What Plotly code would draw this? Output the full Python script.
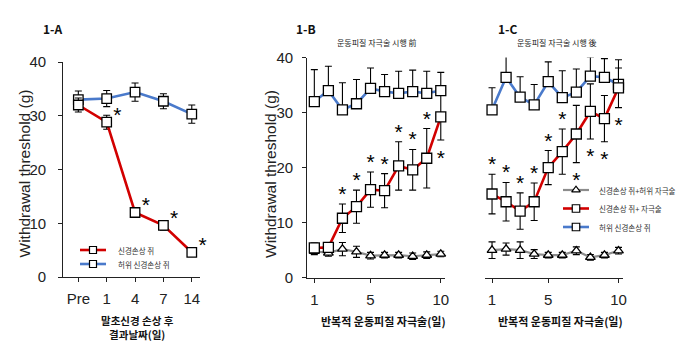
import plotly.graph_objects as go

# ---------------- data ----------------
# 1-A : days after peripheral nerve injury
a_days = ["Pre", "1", "4", "7", "14"]
a_injury = [32.0, 28.8, 12.0, 9.6, 4.6]
a_injury_err = [1.3, 1.3, 0.5, 0.9, 0.4]
a_sham = [33.0, 33.2, 34.4, 32.7, 30.3]
a_sham_err = [1.6, 1.5, 1.7, 1.4, 1.7]
a_sig = [False, True, True, True, True]

# 1-B / 1-C : days of repeated motor cortex stimulation
stim_days = [1, 2, 3, 4, 5, 6, 7, 8, 9, 10]

b_sham = [32.0, 34.0, 30.5, 31.6, 34.4, 33.8, 33.5, 33.8, 33.5, 34.0]
b_sham_err = [5.8, 4.4, 4.9, 4.4, 3.7, 3.1, 4.0, 3.9, 4.0, 3.3]
b_stim = [5.4, 5.5, 10.8, 12.9, 16.0, 15.8, 20.3, 19.6, 21.7, 29.2]
b_stim_err = [0.9, 0.8, 2.6, 3.0, 3.2, 3.1, 4.4, 3.7, 5.4, 4.2]
b_shamstim = [4.8, 4.5, 5.2, 4.7, 4.0, 4.1, 4.1, 3.9, 4.1, 4.3]
b_shamstim_err = [0.6, 0.6, 1.2, 1.0, 0.6, 0.5, 0.5, 0.6, 0.6, 0.5]
# significance mark: +1 above the bar, -1 below, 0 none
b_sig = [0, 0, 1, 1, 1, 1, 1, 1, 1, -1]

c_sham = [30.5, 36.4, 32.8, 31.4, 35.6, 32.7, 33.7, 36.6, 36.4, 35.1]
c_sham_err = [4.0, 4.1, 3.7, 3.7, 3.6, 4.9, 4.2, 3.5, 3.4, 4.5]
c_stim = [15.2, 13.8, 12.1, 13.8, 20.0, 22.9, 26.1, 30.2, 28.9, 34.5]
c_stim_err = [3.6, 3.5, 3.3, 3.4, 3.1, 4.1, 5.2, 5.0, 4.2, 3.6]
c_shamstim = [5.0, 5.2, 5.0, 4.3, 4.1, 4.1, 4.9, 3.7, 4.1, 4.9]
c_shamstim_err = [1.5, 1.1, 1.5, 0.8, 0.5, 0.5, 0.7, 0.5, 0.5, 0.6]
c_sig = [1, 1, 1, 1, 1, 1, -1, -1, -1, -1]

y_ticks = [0, 10, 20, 30, 40]
x_ticks_stim = [1, 5, 10]

# ---------------- style ----------------
W, H = 680, 342
RED = "#d20000"
BLUE = "#4a7acb"
GRAY = "#8c8c8c"
INK = "#222222"
LATIN = "Liberation Sans, Arial, sans-serif"
HANGUL = "Noto Sans CJK KR, sans-serif"
STAR_GAP = 2.5      # distance of an asterisk from the end of its error bar (g)
STAR_LIFT = 1.0     # "*" is drawn high in its text box; lower the anchor by this much (g)

# panel 1-A category axis geometry (pixels)
A_LEFT, A_RIGHT = 63.3, 200.0
A_RANGE = [-0.53, 4.29]
A_PPU = (A_RIGHT - A_LEFT) / (A_RANGE[1] - A_RANGE[0])

fig = go.Figure()


def series(x, y, err_up, err_down, color, lw, symbol, size, xa, ya):
    fig.add_trace(go.Scatter(
        x=x, y=y, mode="lines+markers", xaxis=xa, yaxis=ya,
        line=dict(color=color, width=lw),
        marker=dict(symbol=symbol, size=size, color="white",
                    line=dict(color="black", width=1.3)),
        error_y=dict(type="data", symmetric=False, array=err_up,
                     arrayminus=err_down, color="black", thickness=1.1, width=3.5),
        cliponaxis=False, hoverinfo="skip"))


def stars(x, y, xa, ya):
    fig.add_trace(go.Scatter(
        x=x, y=[v - STAR_LIFT for v in y], mode="text", text=["*"] * len(x),
        xaxis=xa, yaxis=ya, textposition="middle center",
        textfont=dict(family=LATIN, size=21, color="black"),
        cliponaxis=False, hoverinfo="skip"))


def sig_marks(days, mean, err, side):
    xs, ys = [], []
    for d, m, e, s in zip(days, mean, err, side):
        if s > 0:
            xs.append(d); ys.append(m + e + STAR_GAP)
        elif s < 0:
            xs.append(d); ys.append(m - e - STAR_GAP)
    return xs, ys


zeros10 = [0] * len(stim_days)
a_idx = list(range(len(a_days)))

# ---- 1-A ----
series(a_idx, a_sham, a_sham_err, a_sham_err, BLUE, 2.6, "square", 9.5, "x", "y")
series(a_idx, a_injury, a_injury_err, a_injury_err, RED, 2.6, "square", 9.5, "x", "y")
# asterisks sit just right of each point, on a wider twin of the category axis
ax = [i + 0.38 for i, s in zip(a_idx, a_sig) if s]
ay = [m + 2.0 for m, s in zip(a_injury, a_sig) if s]
stars(ax, ay, "x5", "y")

# ---- 1-B ----
series(stim_days, b_shamstim, b_shamstim_err, b_shamstim_err, GRAY, 2.2, "triangle-up", 8.5, "x2", "y2")
series(stim_days, b_stim, b_stim_err, b_stim_err, RED, 2.6, "square", 10, "x2", "y2")
series(stim_days, b_sham, b_sham_err, zeros10, BLUE, 2.6, "square", 10, "x2", "y2")
bx, by = sig_marks(stim_days, b_stim, b_stim_err, b_sig)
stars(bx, by, "x2", "y2")

# ---- 1-C ----
series(stim_days, c_shamstim, c_shamstim_err, c_shamstim_err, GRAY, 2.2, "triangle-up", 8.5, "x3", "y3")
series(stim_days, c_sham, c_sham_err, zeros10, BLUE, 2.6, "square", 10, "x3", "y3")
series(stim_days, c_stim, c_stim_err, c_stim_err, RED, 2.6, "square", 10, "x3", "y3")
cx, cy = sig_marks(stim_days, c_stim, c_stim_err, c_sig)
stars(cx, cy, "x3", "y3")


# ---- legend keys drawn on a pixel-unit overlay axis ----
def legend_key(x0, x1, y, color, lw, symbol, size):
    fig.add_trace(go.Scatter(x=[x0, x1], y=[y, y], mode="lines", xaxis="x4", yaxis="y4",
                             line=dict(color=color, width=lw), hoverinfo="skip"))
    fig.add_trace(go.Scatter(x=[(x0 + x1) / 2], y=[y], mode="markers", xaxis="x4", yaxis="y4",
                             marker=dict(symbol=symbol, size=size, color="white",
                                         line=dict(color="black", width=1.2)),
                             hoverinfo="skip"))


legend_a = [("신경손상 쥐", RED, 2.6, "square"), ("허위 신경손상 쥐", BLUE, 2.6, "square")]
legend_c = [("신경손상 쥐+허위 자극술", GRAY, 2.2, "triangle-up"),
            ("신경손상 쥐+ 자극술", RED, 2.6, "square"),
            ("허위 신경손상 쥐", BLUE, 2.6, "square")]

annotations = []
for i, (label, col, lw, sym) in enumerate(legend_a):
    yy = 250 + i * 14
    legend_key(80, 106, yy, col, lw, sym, 7)
    annotations.append(dict(x=116, y=yy, text=label, xanchor="left", yanchor="middle",
                            font=dict(family=HANGUL, size=7.5, color="#333")))
for i, (label, col, lw, sym) in enumerate(legend_c):
    yy = 190 + i * 18.5
    legend_key(563, 589, yy, col, lw, sym, 7.5)
    annotations.append(dict(x=597, y=yy, text=label, xanchor="left", yanchor="middle",
                            font=dict(family=HANGUL, size=7.5, color="#333")))

# panel labels, subtitles and axis titles
annotations += [
    dict(x=53, y=28, text="<b>1-A</b>", font=dict(family=HANGUL, size=12, color="#111")),
    dict(x=306, y=28, text="<b>1-B</b>", font=dict(family=HANGUL, size=12, color="#111")),
    dict(x=508, y=28, text="<b>1-C</b>", font=dict(family=HANGUL, size=12, color="#111")),
    dict(x=377, y=42, text="운동피질 자극술 시행 前", font=dict(family=HANGUL, size=8, color="#222")),
    dict(x=557, y=42, text="운동피질 자극술 시행 後", font=dict(family=HANGUL, size=8, color="#222")),
    dict(x=23.5, y=174, text="Withdrawal threshold (g)", textangle=-90,
         font=dict(family=LATIN, size=15.5, color=INK)),
    dict(x=270, y=174, text="Withdrawal threshold (g)", textangle=-90,
         font=dict(family=LATIN, size=15.5, color=INK)),
    dict(x=137, y=327, text="<b>말초신경 손상 후<br>결과날짜(일)</b>",
         font=dict(family=HANGUL, size=10.5, color="#111")),
    dict(x=383, y=321, text="<b>반복적 운동피질 자극술(일)</b>", font=dict(family=HANGUL, size=11, color="#111")),
    dict(x=560, y=321, text="<b>반복적 운동피질 자극술(일)</b>", font=dict(family=HANGUL, size=11, color="#111")),
]
for a in annotations:
    a.setdefault("xanchor", "center")
    a.setdefault("yanchor", "middle")
    a.update(xref="x4", yref="y4", showarrow=False)


def xdom(l, r):
    return [l / W, r / W]


def ydom(bottom, top):
    return [1 - bottom / H, 1 - top / H]


axis_common = dict(showline=True, linecolor=INK, linewidth=1.3, ticks="outside",
                   ticklen=4, tickwidth=1.2, tickcolor=INK, showgrid=False, zeroline=False,
                   tickfont=dict(family=LATIN, size=15, color=INK), fixedrange=True)

SIG_RIGHT = 240.0
fig.update_layout(
    width=W, height=H, margin=dict(l=0, r=0, t=0, b=0, pad=0, autoexpand=False),
    paper_bgcolor="white", plot_bgcolor="rgba(0,0,0,0)", showlegend=False,
    xaxis=dict(domain=xdom(A_LEFT, A_RIGHT), range=A_RANGE, anchor="y",
               tickvals=a_idx, ticktext=a_days, ticklabelstandoff=4, **axis_common),
    yaxis=dict(domain=ydom(277, 62), range=[0, 40], anchor="x", tickvals=y_ticks,
               ticklabelstandoff=9, **axis_common),
    xaxis2=dict(domain=xdom(307.3, 445), range=[0.5, 10.3], anchor="y2",
                tickvals=x_ticks_stim, ticklabelstandoff=4, **axis_common),
    yaxis2=dict(domain=ydom(277.7, 57.5), range=[0, 40], anchor="x2", tickvals=y_ticks,
                ticklabelstandoff=6, **axis_common),
    xaxis3=dict(domain=xdom(485, 622.7), range=[0.5, 10.3], anchor="y3",
                tickvals=x_ticks_stim, ticklabelstandoff=4, **axis_common),
    yaxis3=dict(domain=ydom(277.7, 57.5), range=[0, 40], anchor="x3", visible=False,
                fixedrange=True),
    xaxis4=dict(domain=[0, 1], range=[0, W], anchor="y4", visible=False, fixedrange=True),
    yaxis4=dict(domain=[0, 1], range=[H, 0], anchor="x4", visible=False, fixedrange=True),
    # same scale as the 1-A category axis, extended to the right for the asterisks
    xaxis5=dict(domain=xdom(A_LEFT, SIG_RIGHT),
                range=[A_RANGE[0], A_RANGE[0] + (SIG_RIGHT - A_LEFT) / A_PPU],
                anchor="y", visible=False, fixedrange=True),
    annotations=annotations,
)

fig.write_html("out.html")
